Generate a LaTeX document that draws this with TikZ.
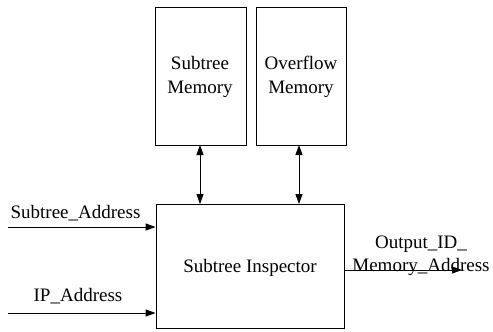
\documentclass[tikz,border=0pt]{standalone}
\usepackage{fontspec}
\setmainfont{Liberation Serif}
\usetikzlibrary{arrows.meta}
\begin{document}
\begin{tikzpicture}[x=1pt,y=-1pt,
  blk/.style={draw, line width=0.9pt, inner sep=0pt},
  lbl/.style={font=\fontsize{19}{23.5}\selectfont, align=center, inner sep=0pt},
  sig/.style={line width=0.9pt, -{Triangle[length=10pt,width=7pt]}},
  bus/.style={line width=0.9pt, {Triangle[length=10pt,width=7pt]}-{Triangle[length=10pt,width=7pt]}}]
\useasboundingbox (0,0) rectangle (493,332);
% memory blocks
\node[blk, minimum width=91pt, minimum height=138pt] (smem) at (200.5,76) {};
\node[blk, minimum width=90pt, minimum height=138pt] (omem) at (301,76) {};
\node[lbl] at (200,77) {Subtree\\Memory};
\node[lbl] at (301,77) {Overflow\\Memory};
% inspector
\node[blk, minimum width=188pt, minimum height=124pt] (insp) at (250,266) {};
\node[lbl] at (250,268) {Subtree Inspector};
% memory buses
\draw[bus] (200,145) -- (200,204);
\draw[bus] (299,145) -- (299,204);
% inputs
\coordinate (sa) at (8,227);
\coordinate (ip) at (8,313);
\draw[sig] (sa) -- (sa -| insp.west);
\draw[sig] (ip) -- (ip -| insp.west);
\node[lbl] at (75.5,213) {Subtree\_Address};
\node[lbl] at (78,296) {IP\_Address};
% output
\coordinate (out) at (462,270);
\draw[sig] (insp.east |- out) -- (out);
\node[lbl] at (421,256) {Output\_ID\_\\Memory\_Address};
\end{tikzpicture}
\end{document}
